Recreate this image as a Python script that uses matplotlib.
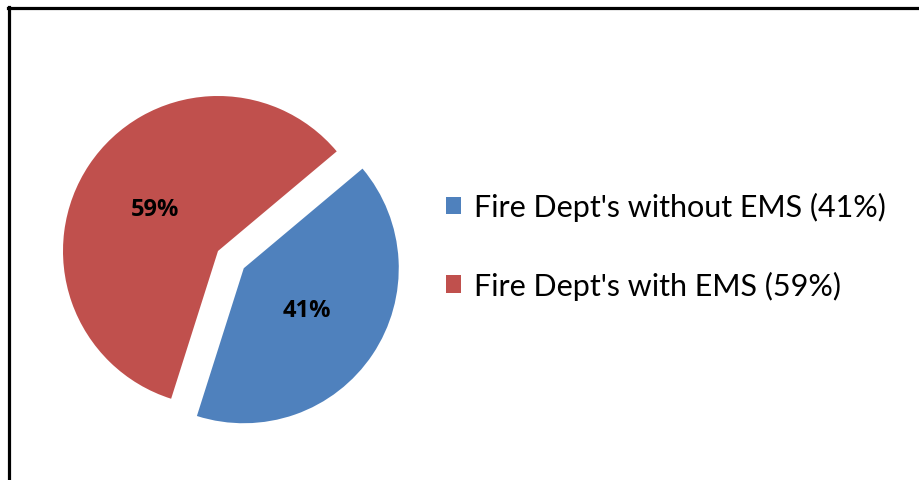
import matplotlib.pyplot as plt
from matplotlib.lines import Line2D

labels = ["Fire Dept's without EMS (41%)", "Fire Dept's with EMS (59%)"]
values = [41, 59]
colors = ['#4F81BD', '#C0504D']
explode = [0.2, 0]

plt.rcParams['font.family'] = ['Lato', 'DejaVu Sans']

fig = plt.figure(figsize=(9.19, 4.81), dpi=100)
W, H = 919, 481

# pie axes, centre at (218, 252) px, radius 155 px
ax = fig.add_axes([18 / W, 29 / H, 400 / W, 400 / H])
wedges, texts, autotexts = ax.pie(values, colors=colors, explode=explode,
                                  startangle=40, counterclock=False,
                                  autopct='%.0f%%', pctdistance=0.49,
                                  textprops=dict(fontsize=17, fontweight='bold', color='black',
                                                 family=['Open Sans', 'DejaVu Sans']))
ax.set_xlim(-200 / 155, 200 / 155)
ax.set_ylim(-200 / 155, 200 / 155)
ax.set_aspect('equal')
ax.axis('off')

fig.legend(wedges, labels, loc='center left', bbox_to_anchor=(418 / W, 1 - 247 / H),
           frameon=False, fontsize=22, handlelength=0.52, handleheight=0.52,
           handletextpad=0.4, labelspacing=1.62)

# frame (left and top edges only, the rest is cropped)
fig.add_artist(Line2D([9 / W, 9 / W], [0, 1 - 8 / H], color='black', lw=2.3))
fig.add_artist(Line2D([8 / W, 1], [1 - 9 / H, 1 - 9 / H], color='black', lw=2.3))

fig.savefig('out.png', dpi=100)
